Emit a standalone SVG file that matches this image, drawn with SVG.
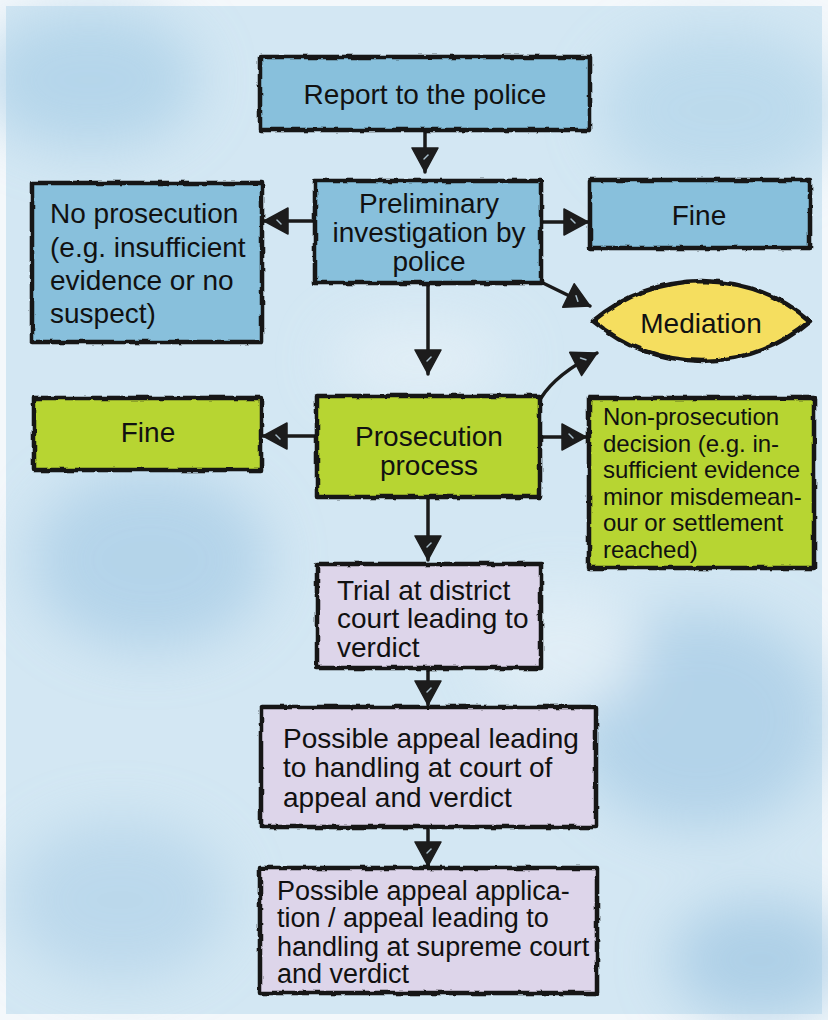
<svg xmlns="http://www.w3.org/2000/svg" width="828" height="1020" viewBox="0 0 828 1020">
<defs>
<filter id="rough" x="-5%" y="-5%" width="110%" height="110%">
<feTurbulence type="fractalNoise" baseFrequency="0.09" numOctaves="2" seed="3" result="n"/>
<feDisplacementMap in="SourceGraphic" in2="n" scale="4" xChannelSelector="R" yChannelSelector="G"/>
</filter>
<filter id="blur" x="-50%" y="-50%" width="200%" height="200%"><feGaussianBlur stdDeviation="28"/></filter>
<marker id="ah" viewBox="0 0 28 28" refX="26" refY="14" markerWidth="28" markerHeight="28" markerUnits="userSpaceOnUse" orient="auto">
<path d="M2,1 L26,14 L2,27 Z" fill="#1c1c1c" stroke="#1c1c1c" stroke-width="1.5" stroke-linejoin="round"/>
<path d="M9,11 L13,15" stroke="#a9bfcc" stroke-width="1.5" stroke-linecap="round"/>
</marker>
<style>
.blue{fill:#88c0dc}
.green{fill:#b7d531}
.lav{fill:#ddd5ea}
.yel{fill:#f5de5f}
.box{stroke:#151515;stroke-width:4.5;stroke-linejoin:round}
.t{font-family:"Liberation Sans",Arial,sans-serif;font-size:28px;fill:#111}
.c{text-anchor:middle}
.s{font-size:24px}
.m{font-size:27px}
.con{fill:none;stroke:#1a1a1a;stroke-width:3.5;stroke-linecap:round;marker-end:url(#ah)}
</style>
</defs>
<rect x="0" y="0" width="828" height="1020" fill="#f4f8fb"/>
<rect x="6" y="6" width="816" height="1008" fill="#d3e7f3"/>
<g filter="url(#blur)" opacity="0.7">
<ellipse cx="90" cy="80" rx="110" ry="70" fill="#a9cfe7"/>
<ellipse cx="720" cy="110" rx="120" ry="80" fill="#b3d5ea"/>
<ellipse cx="150" cy="560" rx="120" ry="90" fill="#a7cce6"/>
<ellipse cx="700" cy="720" rx="130" ry="110" fill="#a6cbe5"/>
<ellipse cx="120" cy="900" rx="110" ry="80" fill="#b2d3e9"/>
<ellipse cx="760" cy="960" rx="90" ry="60" fill="#9fc6e2"/>
<ellipse cx="420" cy="360" rx="90" ry="40" fill="#e8f2f8"/>
<ellipse cx="560" cy="650" rx="80" ry="60" fill="#e6f1f8"/>
</g>
<g id="connectors">
<path class="con" d="M425,131 L425,172"/>
<path class="con" d="M315,221 L264,221"/>
<path class="con" d="M541,222 L588,222"/>
<path class="con" d="M543,283 L590,306"/>
<path class="con" d="M428,284 L428,374"/>
<path class="con" d="M541,398 Q556,374 597,353"/>
<path class="con" d="M317,436 L263,436"/>
<path class="con" d="M541,437 L586,437"/>
<path class="con" d="M428,497 L428,560"/>
<path class="con" d="M428,669 L428,705"/>
<path class="con" d="M428,828 L428,866"/>
</g>
<g id="report">
<rect class="box blue" x="260" y="57" width="330" height="73" filter="url(#rough)"/>
<text class="t c" x="425" y="104">Report to the police</text>
</g>
<g id="preliminary">
<rect class="box blue" x="315" y="181" width="226" height="102" filter="url(#rough)"/>
<text class="t c" x="429" y="213">Preliminary</text>
<text class="t c" x="429" y="242">investigation by</text>
<text class="t c" x="429" y="271">police</text>
</g>
<g id="noprosecution">
<rect class="box blue" x="32" y="183" width="230" height="159" filter="url(#rough)"/>
<text class="t" x="50" y="223">No prosecution</text>
<text class="t" x="50" y="257">(e.g. insufficient</text>
<text class="t" x="50" y="290">evidence or no</text>
<text class="t" x="50" y="323">suspect)</text>
</g>
<g id="fine1">
<rect class="box blue" x="590" y="180" width="220" height="68" filter="url(#rough)"/>
<text class="t c" x="699" y="225">Fine</text>
</g>
<g id="mediation">
<path class="box yel" d="M593,321 Q640,282 702,281 Q765,282 810,321 Q765,360 702,361 Q640,360 593,321 Z" filter="url(#rough)"/>
<text class="t c" x="701" y="333">Mediation</text>
</g>
<g id="fine2">
<rect class="box green" x="34" y="398" width="227" height="72" filter="url(#rough)"/>
<text class="t c" x="148" y="442">Fine</text>
</g>
<g id="prosecution">
<rect class="box green" x="317" y="396" width="223" height="101" filter="url(#rough)"/>
<text class="t c" x="429" y="446">Prosecution</text>
<text class="t c" x="429" y="475">process</text>
</g>
<g id="nonprosecution">
<rect class="box green" x="589" y="398" width="225" height="170" filter="url(#rough)"/>
<text class="t s" x="603" y="425">Non-prosecution</text>
<text class="t s" x="603" y="451.5">decision (e.g. in-</text>
<text class="t s" x="603" y="478">sufficient evidence</text>
<text class="t s" x="603" y="504.5">minor misdemean-</text>
<text class="t s" x="603" y="531">our or settlement</text>
<text class="t s" x="603" y="557.5">reached)</text>
</g>
<g id="trial">
<rect class="box lav" x="317" y="564" width="224" height="104" filter="url(#rough)"/>
<text class="t" x="337" y="600">Trial at district</text>
<text class="t" x="337" y="628">court leading to</text>
<text class="t" x="337" y="657">verdict</text>
</g>
<g id="appeal">
<rect class="box lav" x="261" y="707" width="335" height="120" filter="url(#rough)"/>
<text class="t" x="283" y="748">Possible appeal leading</text>
<text class="t" x="283" y="777">to handling at court of</text>
<text class="t" x="283" y="807">appeal and verdict</text>
</g>
<g id="supreme">
<rect class="box lav" x="260" y="868" width="337" height="125" filter="url(#rough)"/>
<text class="t m" x="277" y="900">Possible appeal applica-</text>
<text class="t m" x="277" y="927">tion / appeal leading to</text>
<text class="t m" x="277" y="956">handling at supreme court</text>
<text class="t m" x="277" y="983">and verdict</text>
</g>
</svg>
